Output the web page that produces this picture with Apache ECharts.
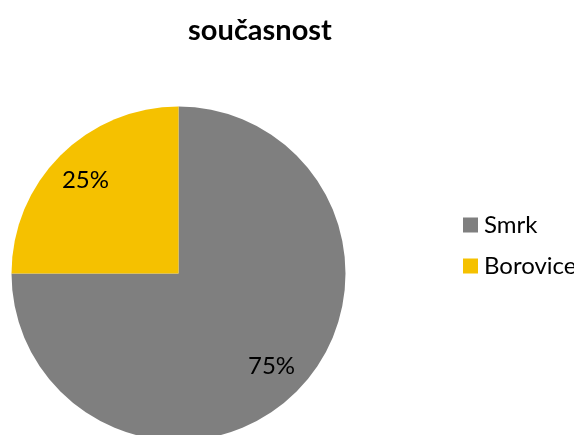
<!DOCTYPE html>
<html>
<head>
<meta charset="utf-8">
<script src="https://cdn.jsdelivr.net/npm/echarts@6/dist/echarts.min.js"></script>
<style>
  html, body { margin: 0; padding: 0; background: #ffffff; }
  #chart { width: 574px; height: 435px; }
</style>
</head>
<body>
<div id="chart"></div>
<script>
// Tree species share, present state
const categories = ['Smrk', 'Borovice'];
const shares = [75, 25];
const colors = ['#7F7F7F', '#F5C100'];

const FONT = 'Lato, "Open Sans", "DejaVu Sans", sans-serif';

const pieData = categories.map((name, i) => ({
  name: name,
  value: shares[i],
  itemStyle: { color: colors[i] }
}));

const center = [178.5, 273.5];
const pieRadius = 167;

const chart = echarts.init(document.getElementById('chart'), null, { renderer: 'canvas' });
chart.setOption({
  animation: false,
  backgroundColor: '#ffffff',
  title: {
    text: 'současnost',
    left: 255,
    top: 11,
    textAlign: 'center',
    textStyle: { fontFamily: FONT, fontWeight: 'bold', fontSize: 29, color: '#000000' }
  },
  legend: {
    orient: 'vertical',
    left: 458,
    top: 208,
    icon: 'rect',
    itemWidth: 15,
    itemHeight: 15,
    itemGap: 17,
    data: categories,
    textStyle: { fontFamily: FONT, fontSize: 24, color: '#000000', padding: [0, 0, 0, 1] }
  },
  series: [
    {
      type: 'pie',
      center: center,
      radius: [0, pieRadius],
      startAngle: 90,
      clockwise: true,
      silent: true,
      label: { show: false },
      labelLine: { show: false },
      data: pieData
    },
    {
      // transparent ring used only to place percentage labels further out
      type: 'pie',
      center: center,
      radius: [0, pieRadius * 1.54],
      startAngle: 90,
      clockwise: true,
      silent: true,
      itemStyle: { color: 'rgba(0,0,0,0)' },
      label: {
        show: true,
        position: 'inside',
        formatter: p => p.value + '%',
        fontFamily: FONT,
        fontSize: 24,
        color: '#000000'
      },
      labelLine: { show: false },
      data: categories.map((name, i) => ({ name: name, value: shares[i], itemStyle: { color: 'rgba(0,0,0,0)' } }))
    }
  ]
});
</script>
</body>
</html>
